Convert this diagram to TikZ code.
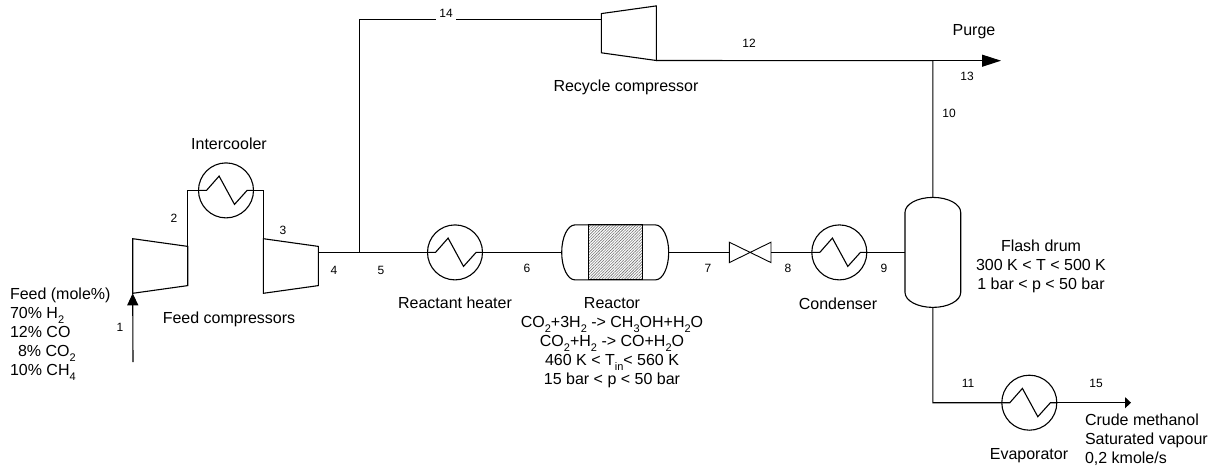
\documentclass[tikz,border=0pt]{standalone}
\usepackage{fontspec}
\setmainfont{Liberation Sans}
\usetikzlibrary{positioning, arrows.meta, shapes.geometric, patterns.meta}
\newcommand{\chemsub}[1]{\raisebox{-5pt}{\fontsize{11}{11}\selectfont #1}}

\begin{document}
\begin{tikzpicture}[
  x=1pt, y=-1pt,
  line width=1.1pt,
  every node/.style={outer sep=0pt},
  exchanger/.style={circle, draw, minimum size=55pt, inner sep=0pt, path picture={
    \draw ([xshift=-27.5pt]path picture bounding box.center) -- ++(8pt,0pt) -- ++(12.6pt,14.3pt)
      -- ++(15.4pt,-28.3pt) -- ++(12.6pt,14pt) -- ++(6.5pt,0pt);}},
  compressor/.style={trapezium, draw, trapezium stretches=true, trapezium angle=78.9,
    minimum width=54.6pt, minimum height=55pt, inner sep=1pt},
  vessel/.style={rectangle, inner sep=0pt},
  arrow/.style={-{Triangle[length=12pt, width=11pt]}},
  bigarrow/.style={-{Triangle[length=19pt, width=12pt]}},
  smallarrow/.style={-{Triangle[length=6pt, width=11pt]}},
  lbl/.style={font=\fontsize{16}{19}\selectfont, align=center, inner sep=0pt},
  num/.style={font=\fontsize{12}{14}\selectfont, inner sep=1pt}
]
  % Equipment along the main line
  \coordinate (tee) at (359.8,252.4);
  \node[exchanger, right=67.7pt of tee] (heater) {};
  \node[vessel, minimum width=107pt, minimum height=55pt, right=79.2pt of heater] (reactor) {};
  \node[vessel, minimum width=41.7pt, minimum height=20.4pt, right=60.6pt of reactor] (valve) {};
  \node[exchanger, right=40.8pt of valve] (condenser) {};
  \node[vessel, minimum width=55.7pt, minimum height=110pt, right=38.2pt of condenser] (drum) {};
  \node[rectangle, draw, pattern={Lines[angle=45, distance=2pt, line width=.6pt]}, pattern color=black!55,
    minimum width=53.7pt, minimum height=55pt, inner sep=0pt] (bed) at (reactor.center) {};

  % Compressors and other exchangers
  \node[compressor, shape border rotate=270] (feed1) at (160.2,266) {};
  \node[compressor, shape border rotate=270] (feed2) at (290.8,266) {};
  \node[compressor, shape border rotate=90] (recycle) at (628.8,33.2) {};
  \node[exchanger] (intercooler) at (226,190.4) {};
  \node[exchanger] (evaporator) at (1029.3,402.7) {};

  % Free ends
  \coordinate (feedin) at (133,362);
  \coordinate (corner14) at (359.8,19.6);
  \coordinate (split) at (932.8,60.7);
  \coordinate (purge) at (1001,60.7);
  \coordinate (corner11) at (932.8,402.7);
  \coordinate (product) at (1131,402.7);

  % Vessel outlines
  \draw ([xshift=13.3pt]reactor.north west) arc[start angle=90, end angle=270, x radius=13.3pt, y radius=27.5pt]
    -- ([xshift=-13.3pt]reactor.south east) arc[start angle=270, end angle=450, x radius=13.3pt, y radius=27.5pt] -- cycle;
  \draw ([yshift=-15pt]drum.north west) arc[start angle=180, end angle=0, x radius=27.85pt, y radius=15pt]
    -- ([yshift=15pt]drum.south east) arc[start angle=360, end angle=180, x radius=27.85pt, y radius=15pt] -- cycle;
  \draw[line width=.9pt] (valve.north west) -- (valve.south east) -- (valve.north east) -- (valve.south west) -- cycle;

  % Streams
  \draw[arrow] (feedin) -- (feed1.bottom right corner);
  \draw (feed1.top left corner) |- (intercooler.west);
  \draw (intercooler.east) -| (feed2.bottom left corner);
  \draw (feed2.top side |- tee) -- (heater.west);
  \draw (heater.east) -- (reactor.west);
  \draw (reactor.east) -- (valve.west);
  \draw (valve.east) -- (condenser.west);
  \draw (condenser.east) -- (drum.west);
  \draw (drum.north) -- (split);
  \draw (recycle.bottom left corner) -- (split);
  \draw[bigarrow] (split) -- (purge);
  \draw (tee) -- (corner14) -- (recycle.top side |- corner14);
  \draw (drum.south) -- (corner11) -- (evaporator.west);
  \draw[smallarrow] (evaporator.east) -- (product);

  % Stream numbers
  \node[num] (n1) at (120,327) {1};
  \node[num] (n2) at (174,218) {2};
  \node[num] (n3) at (283,230) {3};
  \node[num] (n4) at (334,270) {4};
  \node[num] (n5) at (381,270) {5};
  \node[num] (n6) at (527,268) {6};
  \node[num] (n7) at (708,268) {7};
  \node[num] (n8) at (788,268) {8};
  \node[num] (n9) at (884,268) {9};
  \node[num] (n10) at (949,113) {10};
  \node[num] (n11) at (968,383) {11};
  \node[num] (n12) at (749,43) {12};
  \node[num] (n13) at (967,76) {13};
  \node[num, fill=white, minimum width=20pt, minimum height=16pt] (n14) at (446,13) {14};
  \node[num] (n15) at (1096,383) {15};

  % Annotation
  \node[lbl] (coolertext) at (229,144) {Intercooler};
  \node[lbl] (feedtext) at (229,319) {Feed compressors};
  \node[lbl, align=left, anchor=north west] (feedcomp) at (10,288) {Feed (mole\%)\\70\% H\chemsub{2}\\12\% CO\\\hspace{8pt}8\% CO\chemsub{2}\\10\% CH\chemsub{4}};
  \node[lbl] (heatertext) at (455,303) {Reactant heater};
  \node[lbl, anchor=north] (reactortext) at (612,297) {Reactor\\CO\chemsub{2}+3H\chemsub{2} -> CH\chemsub{3}OH+H\chemsub{2}O\\CO\chemsub{2}+H\chemsub{2} -> CO+H\chemsub{2}O\\460 K < T\chemsub{in}< 560 K\\15 bar < p < 50 bar};
  \node[lbl] (condensertext) at (838,304) {Condenser};
  \node[lbl, anchor=north] (drumtext) at (1041,240) {Flash drum\\300 K < T < 500 K\\1 bar < p < 50 bar};
  \node[lbl] (recycletext) at (626,87.5) {Recycle compressor};
  \node[lbl] (purgetext) at (974,32) {Purge};
  \node[lbl] (evaptext) at (1029,456) {Evaporator};
  \node[lbl, align=left, anchor=north west] (producttext) at (1085,414) {Crude methanol\\Saturated vapour\\0,2 kmole/s};

  \useasboundingbox (0,0) rectangle (1220,468);
\end{tikzpicture}
\end{document}
